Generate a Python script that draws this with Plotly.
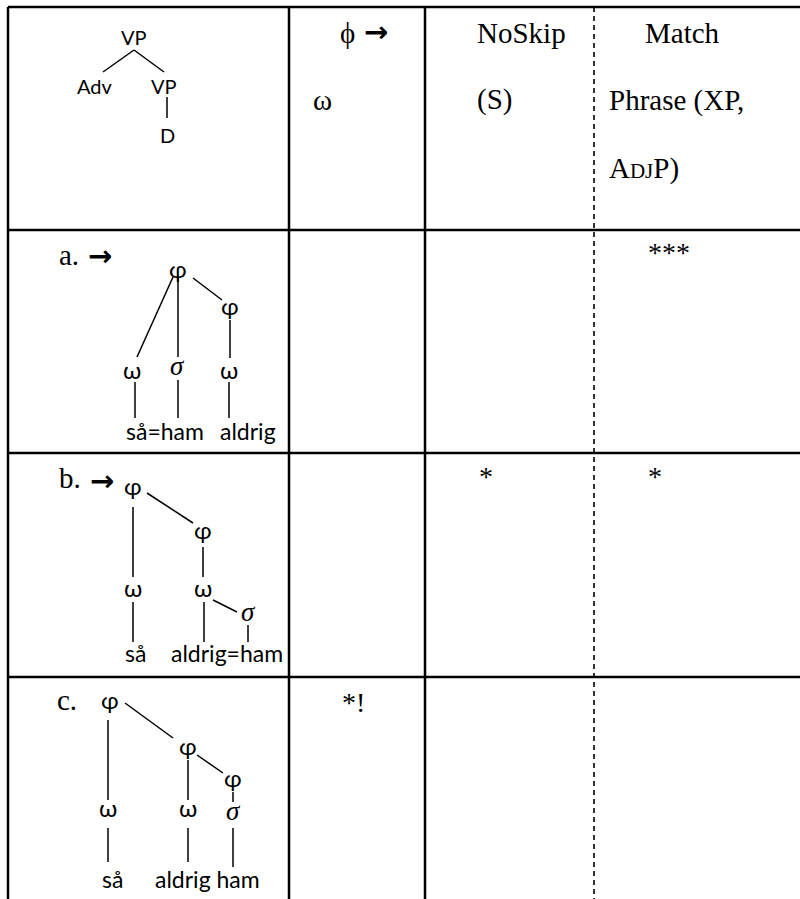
import plotly.graph_objects as go

# OT tableau: input tree, candidates, constraints and violation marks
candidates = ["a.", "b.", "c."]
optimal = [True, True, False]
header_lines = [
    ["ϕ", "ω"],
    ["NoSkip", "(S)"],
    ["Match", "Phrase (XP,", "A<span style='font-size:21px'>DJ</span>P)"],
]
violations = [
    ["", "", "***"],
    ["", "*", "*"],
    ["*!", "", ""],
]

# input syntax tree
input_labels = ["VP", "Adv", "VP", "D"]
input_xy = [(134, 37), (95, 86), (164, 86), (167, 135)]
input_edges = [((134, 50), (103, 72)), ((134, 50), (164, 72)), ((167, 97), (167, 118))]

# prosodic trees for each candidate: node labels, words, positions
tree_labels = [
    ["φ", "φ", "ω", "σ", "ω"],
    ["φ", "φ", "ω", "ω", "σ"],
    ["φ", "φ", "φ", "ω", "ω", "σ"],
]
tree_xy = [
    [(178, 268), (230, 305), (132, 369), (177, 366), (229, 369)],
    [(133, 485), (203, 529), (133, 587), (203, 587), (248, 612)],
    [(110, 699), (188, 745), (233, 777), (108, 807), (188, 807), (233, 811)],
]
tree_words = [["så=ham", "aldrig"], ["så", "aldrig=ham"], ["så", "aldrig ham"]]
word_xy = [
    [(165, 431), (248, 431)],
    [(135, 653), (227, 653)],
    [(112, 879), (207, 879)],
]
tree_edges = [
    [((173, 277), (137, 357)), ((178, 277), (178, 357)), ((193, 278), (222, 300)),
     ((230, 320), (230, 358)), ((135, 382), (135, 418)), ((178, 380), (178, 418)),
     ((229, 382), (229, 418))],
    [((133, 507), (133, 577)), ((147, 493), (193, 523)), ((203, 547), (203, 577)),
     ((213, 600), (237, 612)), ((133, 602), (133, 642)), ((204, 602), (204, 642)),
     ((248, 625), (248, 642))],
    [((108, 720), (108, 800)), ((125, 703), (173, 738)), ((188, 760), (188, 800)),
     ((197, 755), (223, 773)), ((233, 792), (233, 802)), ((108, 828), (108, 862)),
     ((188, 828), (188, 862)), ((233, 828), (233, 867))],
]

# table grid
col_edges = [8, 289, 425, 594]
row_edges = [7, 230, 453, 677]
table_right = 800
table_bottom = 899

SERIF = "Liberation Serif, Times New Roman, serif"
SANS = "Lato, Open Sans, sans-serif"
ARROW_FONT = "DejaVu Sans"


def edge_trace(edges):
    xs, ys = [], []
    for (x0, y0), (x1, y1) in edges:
        xs += [x0, x1, None]
        ys += [y0, y1, None]
    return go.Scatter(x=xs, y=ys, mode="lines", line=dict(color="black", width=1.5),
                      hoverinfo="skip", showlegend=False)


def label(text, x, y, size, family, anchor="center", color="black"):
    return dict(text=text, x=x, y=y, xref="x", yref="y", showarrow=False,
                xanchor=anchor, yanchor="middle",
                font=dict(size=size, family=family, color=color))


fig = go.Figure()
annotations = []

# input tree
fig.add_trace(edge_trace(input_edges))
for lab, (x, y) in zip(input_labels, input_xy):
    annotations.append(label(lab, x, y, 20, SANS))

# header constraints
annotations.append(label(header_lines[0][0], 338, 33, 29, SERIF, "left"))
annotations.append(label("<b>→</b>", 376, 32, 29, ARROW_FONT))
annotations.append(label(header_lines[0][1], 311, 100, 29, SERIF, "left"))
annotations.append(label(header_lines[1][0], 475, 33, 29, SERIF, "left"))
annotations.append(label(header_lines[1][1], 475, 99, 29, SERIF, "left"))
annotations.append(label(header_lines[2][0], 643, 33, 29, SERIF, "left"))
annotations.append(label(header_lines[2][1], 607, 100, 29, SERIF, "left"))
annotations.append(label(header_lines[2][2], 607, 168, 29, SERIF, "left"))

# candidates
cand_label_y = [255, 478, 700]
arrow_y = [256, 481]
arrow_x = [100, 102]
for i, cand in enumerate(candidates):
    annotations.append(label(cand, 57 if i < 2 else 55, cand_label_y[i], 29, SERIF, "left"))
    if optimal[i]:
        annotations.append(label("<b>→</b>", arrow_x[i], arrow_y[i], 29, ARROW_FONT))
    fig.add_trace(edge_trace(tree_edges[i]))
    for lab, (x, y) in zip(tree_labels[i], tree_xy[i]):
        if lab == "σ":
            annotations.append(label("<i>σ</i>", x, y, 27, SERIF))
        else:
            annotations.append(label(lab, x, y, 24, SANS))
    for w, (x, y) in zip(tree_words[i], word_xy[i]):
        annotations.append(label(w, x, y, 23, SANS))

# violation marks
mark_x = [340, 477, 646]
mark_y = [252, 476, 702]
for i, row in enumerate(violations):
    for j, mark in enumerate(row):
        if mark:
            annotations.append(label(mark, mark_x[j], mark_y[i], 28, SERIF, "left"))

# grid lines
shapes = []
for y in row_edges:
    shapes.append(dict(type="line", xref="x", yref="y", x0=col_edges[0], x1=table_right,
                       y0=y, y1=y, line=dict(color="black", width=2.5)))
for x in col_edges[:3]:
    shapes.append(dict(type="line", xref="x", yref="y", x0=x, x1=x,
                       y0=row_edges[0], y1=table_bottom, line=dict(color="black", width=2.5)))
shapes.append(dict(type="line", xref="x", yref="y", x0=col_edges[3], x1=col_edges[3],
                   y0=row_edges[0], y1=table_bottom,
                   line=dict(color="black", width=1.6, dash="5px,4px")))

fig.update_layout(
    width=800, height=899,
    margin=dict(l=0, r=0, t=0, b=0),
    paper_bgcolor="white", plot_bgcolor="white",
    xaxis=dict(range=[0, 800], visible=False, fixedrange=True),
    yaxis=dict(range=[899, 0], visible=False, fixedrange=True),
    shapes=shapes,
    annotations=annotations,
    showlegend=False,
)

# the page's default body margin would shift the whole table by 8px
fig.write_html("out.html", config={"displayModeBar": False},
               post_script="document.body.style.margin = '0'; document.body.style.overflow = 'hidden';")
